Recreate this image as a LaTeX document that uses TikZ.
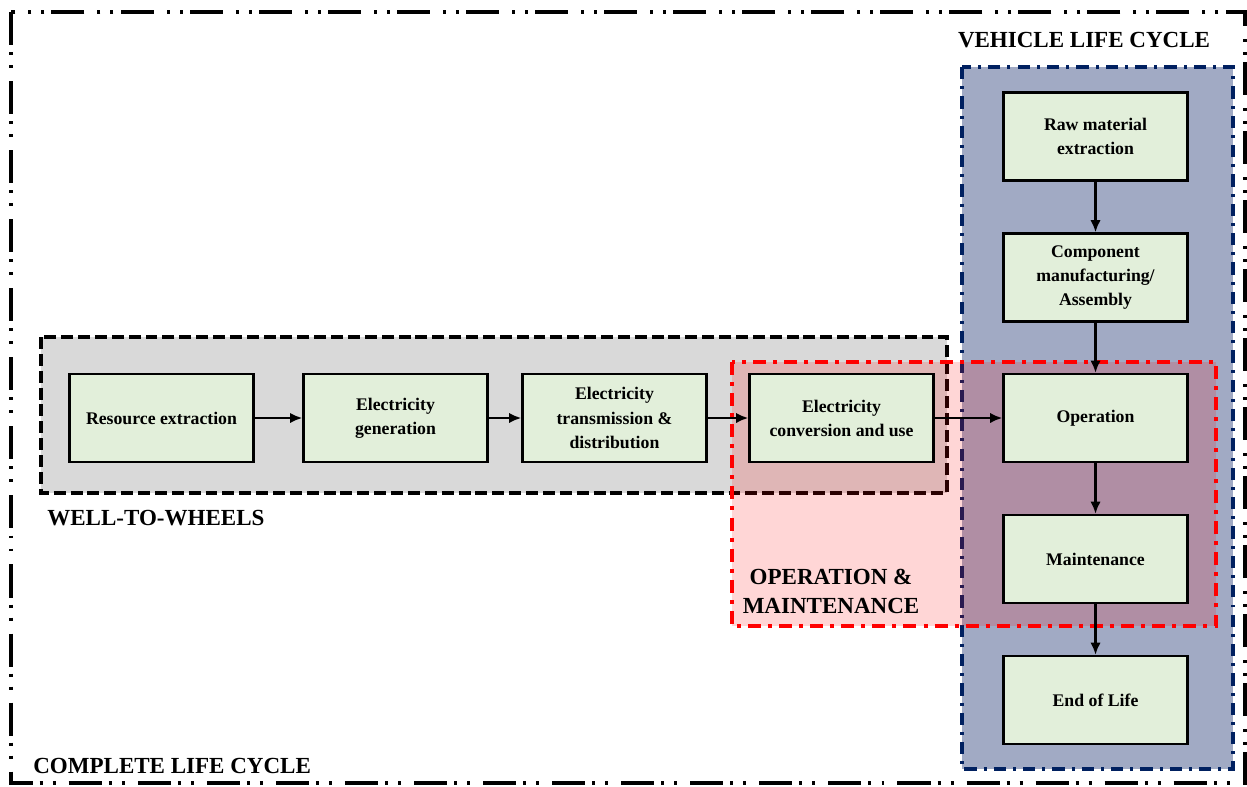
\documentclass[tikz,border=0pt]{standalone}
\usepackage{fontspec}
\setmainfont{Liberation Serif}
\usepackage{xcolor}
\usetikzlibrary{arrows.meta,positioning}
\definecolor{boxgreen}{RGB}{226,239,218}
\definecolor{wtwgray}{RGB}{217,217,217}
\definecolor{vehblue}{RGB}{161,170,196}
\definecolor{navy}{RGB}{0,32,96}
\tikzset{
  stage/.style={draw,line width=1.3pt,fill=boxgreen,minimum width=3.68cm,minimum height=1.76cm,inner sep=0pt,align=center,font=\fontsize{10.1}{13.7}\selectfont\bfseries},
  flow/.style={->,>={Latex[length=7pt,width=6pt]},line width=1.4pt},
  region/.style={inner sep=0pt,font=\fontsize{13.1}{16.5}\selectfont\bfseries}
}

\begin{document}
\begin{tikzpicture}
      \useasboundingbox (0,0) rectangle (24.94,15.72);
      % the four life-cycle regions
      \draw[line width=2.1pt,dash pattern=on 18.8pt off 4pt on 1.7pt off 5.7pt on 1.7pt off 7.4pt] (0.22,15.48) rectangle (24.9,0.06);
      \filldraw[fill=wtwgray,line width=2.1pt,dash pattern=on 6.8pt off 2.8pt] (0.82,8.98) rectangle (18.94,5.86);
      \filldraw[fill=vehblue,draw=navy,line width=2.1pt,dash pattern=on 7pt off 4pt on 1.7pt off 4pt] (19.24,14.38) rectangle (24.66,0.34);
      \filldraw[fill=red,fill opacity=.16,draw=red,line width=2.1pt,dash pattern=on 7.4pt off 4pt on 2.3pt off 4pt] (14.64,8.48) rectangle (24.32,3.2);
      % stages
      \node[stage] (res) at (3.23,7.36) {Resource extraction};
      \node[stage] (gen) at (7.91,7.36) {Electricity\\generation};
      \node[stage] (trans) at (12.29,7.36) {Electricity\\transmission \&\\distribution};
      \node[stage] (conv) at (16.83,7.36) {Electricity\\conversion and use};
      \node[stage] (raw) at (21.91,12.99) {Raw material\\extraction};
      \node[stage] (comp) at (21.91,10.17) {Component\\manufacturing/\\Assembly};
      \node[stage] (op) at (21.91,7.36) {Operation};
      \node[stage] (maint) at (21.91,4.54) {Maintenance};
      \node[stage] (eol) at (21.91,1.72) {End of Life};
      % region labels
      \node[region] (vlc) at (21.68,14.92) {VEHICLE LIFE CYCLE};
      \node[region,anchor=west] (wtw) at (0.94,5.36) {WELL-TO-WHEELS};
      \node[region,align=center] (om) at (16.62,3.9) {OPERATION \&\\MAINTENANCE};
      \node[region,anchor=west] (clc) at (0.66,0.4) {COMPLETE LIFE CYCLE};
      % flows
      \draw[flow] (res) -- (gen);
      \draw[flow] (gen) -- (trans);
      \draw[flow] (trans) -- (conv);
      \draw[flow] (conv) -- (op);
      \draw[flow] (raw) -- (comp);
      \draw[flow] (comp) -- (op);
      \draw[flow] (op) -- (maint);
      \draw[flow] (maint) -- (eol);
    \end{tikzpicture}
\end{document}
